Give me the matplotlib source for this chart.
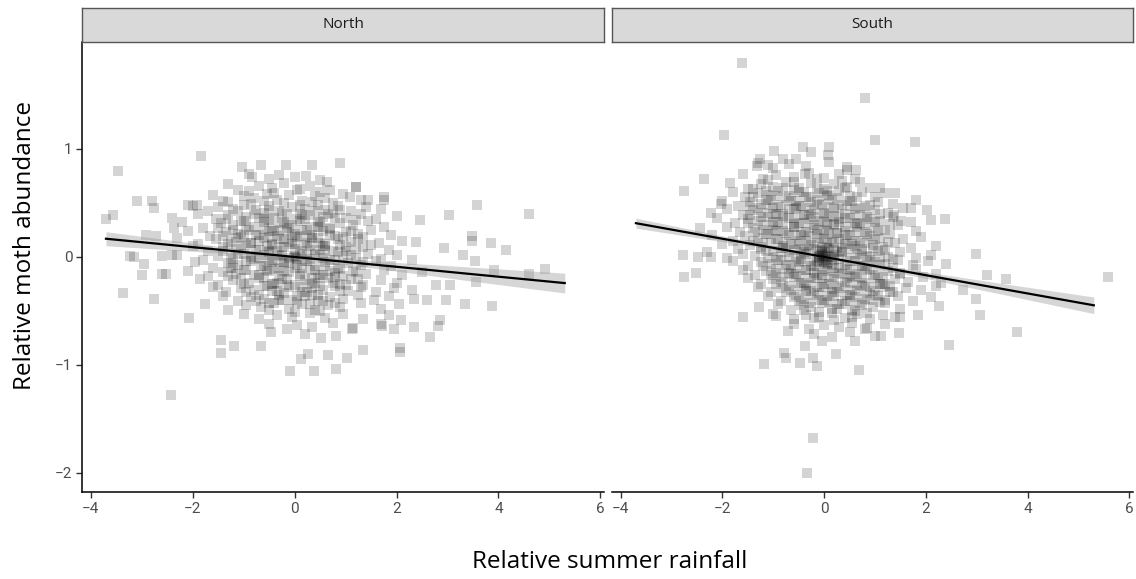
import numpy as np
import matplotlib.pyplot as plt

# relative rainfall / relative moth abundance
north_points = [
    # outer points
    (-1.83, 0.93), (-3.47, 0.79), (-3.70, 0.35), (-3.57, 0.39), (-3.10, 0.52), (-2.79, 0.52),
    (-2.75, 0.45), (-3.22, 0.01), (-3.15, 0.0), (-2.95, -0.07), (-2.99, -0.17), (-2.60, -0.16),
    (-2.52, -0.16), (-3.36, -0.34), (-2.75, -0.39), (-2.42, -1.28), (-2.07, -0.57), (-2.92, 0.20),
    (-2.71, 0.19), (-2.60, 0.01), (-2.40, 0.02), (-2.40, 0.36), (-2.36, 0.27), (-2.10, 0.48),
    (-1.92, 0.48), (-1.04, 0.83), (-0.83, 0.74), (-0.65, 0.85), (-0.16, 0.85), (0.35, 0.85),
    (0.89, 0.87), (0.22, 0.75), (0.64, 0.69), (1.20, 0.65), (1.44, 0.53), (1.75, 0.53),
    (1.08, 0.55), (2.47, 0.34), (3.03, 0.39), (3.58, 0.48), (4.60, 0.40), (3.48, 0.19),
    (3.48, 0.15), (3.85, 0.13), (4.14, 0.06), (3.31, 0.02), (3.54, -0.04), (2.94, 0.08),
    (2.39, 0.14), (3.91, -0.12), (4.60, -0.16), (4.91, -0.11), (3.56, -0.23), (3.34, -0.44),
    (3.87, -0.46), (2.97, -0.40), (3.05, -0.26), (2.78, -0.26), (2.59, -0.40), (2.35, -0.39),
    (2.86, -0.59), (2.82, -0.64), (2.65, -0.74), (2.34, -0.65), (2.08, -0.59), (1.95, -0.67),
    (1.71, -0.64), (2.07, -0.85), (2.07, -0.88), (1.34, -0.86), (1.03, -0.94), (0.82, -1.04),
    (0.66, -0.91), (0.38, -1.06), (-0.08, -1.06), (0.13, -0.95), (0.27, -0.90), (-0.65, -0.83),
    (-1.19, -0.83), (-1.44, -0.77), (-1.44, -0.89), (-0.47, -0.70), (0.21, -0.72), (0.82, -0.73),
    (0.52, -0.75), (1.13, -0.67),
    # core
    (-0.9, 0.77), (-0.5, 0.72), (-0.3, 0.76), (0.0, 0.74), (0.5, 0.71),
    (-1.3, 0.67), (-1.1, 0.62), (-0.7, 0.66), (-0.45, 0.64), (-0.2, 0.68), (0.1, 0.63), (0.3, 0.66),
    (0.7, 0.62), (1.2, 0.65),
    (-1.6, 0.57), (-1.4, 0.52), (-1.0, 0.56), (-0.8, 0.54), (-0.55, 0.58), (-0.35, 0.53), (-0.1, 0.57),
    (0.15, 0.52), (0.4, 0.56), (0.6, 0.54), (0.95, 0.58), (1.3, 0.53), (1.75, 0.55),
    (-2.0, 0.47), (-1.7, 0.42), (-1.5, 0.46), (-1.2, 0.44), (-1.0, 0.48), (-0.75, 0.43), (-0.5, 0.47),
    (-0.3, 0.42), (-0.05, 0.46), (0.2, 0.44), (0.45, 0.48), (0.6, 0.43), (0.85, 0.47), (1.1, 0.42),
    (1.4, 0.46), (1.7, 0.44),
    (-1.9, 0.40), (-1.55, 0.35), (-1.3, 0.39), (-0.95, 0.37), (-0.6, 0.41), (-0.4, 0.36), (-0.15, 0.40),
    (0.05, 0.35), (0.3, 0.39), (0.55, 0.37), (0.75, 0.41), (1.0, 0.36), (1.3, 0.40), (1.6, 0.35),
    (2.0, 0.38),
    (-2.2, 0.32), (-1.8, 0.27), (-1.45, 0.31), (-1.2, 0.29), (-1.0, 0.33), (-0.8, 0.28), (-0.6, 0.32),
    (-0.45, 0.27), (-0.25, 0.31), (-0.05, 0.29), (0.1, 0.33), (0.3, 0.28), (0.5, 0.32), (0.7, 0.27),
    (0.9, 0.31), (1.15, 0.29), (1.45, 0.33), (1.75, 0.28),
    (-2.1, 0.24), (-1.65, 0.19), (-1.35, 0.23), (-1.1, 0.21), (-0.9, 0.25), (-0.7, 0.20), (-0.5, 0.24),
    (-0.35, 0.19), (-0.15, 0.23), (0.0, 0.21), (0.15, 0.25), (0.35, 0.20), (0.55, 0.24), (0.8, 0.19),
    (1.0, 0.23), (1.25, 0.21), (1.5, 0.25), (1.9, 0.20),
    (-2.3, 0.17), (-1.9, 0.12), (-1.55, 0.16), (-1.25, 0.14), (-1.05, 0.18), (-0.85, 0.13), (-0.6, 0.17),
    (-0.45, 0.12), (-0.3, 0.16), (-0.1, 0.14), (0.05, 0.18), (0.25, 0.13), (0.45, 0.17), (0.6, 0.12),
    (0.85, 0.16), (1.1, 0.14), (1.35, 0.18), (1.65, 0.13), (2.1, 0.15),
    (-2.0, 0.10), (-1.7, 0.05), (-1.4, 0.09), (-1.15, 0.07), (-0.95, 0.11), (-0.75, 0.06), (-0.55, 0.10),
    (-0.35, 0.05), (-0.2, 0.09), (0.0, 0.07), (0.2, 0.11), (0.4, 0.06), (0.55, 0.10), (0.75, 0.05),
    (1.0, 0.09), (1.2, 0.07), (1.5, 0.11), (1.85, 0.06),
    (-2.3, 0.02), (-1.8, -0.03), (-1.5, 0.01), (-1.25, -0.01), (-1.0, 0.03), (-0.8, -0.02), (-0.6, 0.02),
    (-0.4, -0.03), (-0.25, 0.01), (-0.1, -0.01), (0.0, 0.0), (0.1, 0.03), (0.3, -0.02), (0.5, 0.02),
    (0.7, -0.03), (0.95, 0.01), (1.2, -0.01), (1.45, 0.03), (1.7, -0.02), (2.0, 0.02), (2.3, -0.03),
    (-1.95, -0.05), (-1.6, -0.10), (-1.3, -0.06), (-1.1, -0.08), (-0.85, -0.04), (-0.65, -0.09),
    (-0.45, -0.05), (-0.3, -0.10), (-0.1, -0.06), (0.05, -0.08), (0.2, -0.04), (0.4, -0.09),
    (0.6, -0.05), (0.85, -0.10), (1.05, -0.06), (1.3, -0.08), (1.6, -0.04), (1.9, -0.09),
    (-2.1, -0.13), (-1.7, -0.18), (-1.4, -0.14), (-1.15, -0.16), (-0.95, -0.12), (-0.7, -0.17),
    (-0.5, -0.13), (-0.3, -0.18), (-0.1, -0.14), (0.1, -0.16), (0.3, -0.12), (0.5, -0.17), (0.7, -0.13),
    (0.95, -0.18), (1.2, -0.14), (1.4, -0.16), (1.75, -0.12), (2.1, -0.17), (2.5, -0.14),
    (-1.85, -0.21), (-1.5, -0.26), (-1.2, -0.22), (-0.9, -0.24), (-0.7, -0.20), (-0.45, -0.25),
    (-0.25, -0.21), (0.0, -0.26), (0.2, -0.22), (0.4, -0.24), (0.65, -0.20), (0.9, -0.25), (1.1, -0.21),
    (1.35, -0.26), (1.7, -0.22), (2.0, -0.24),
    (-1.6, -0.28), (-1.35, -0.33), (-1.05, -0.29), (-0.8, -0.31), (-0.55, -0.27), (-0.35, -0.32),
    (-0.1, -0.28), (0.15, -0.33), (0.35, -0.29), (0.55, -0.31), (0.8, -0.27), (1.05, -0.32), (1.3, -0.28),
    (1.6, -0.33), (1.95, -0.29), (2.3, -0.31),
    (-1.4, -0.36), (-1.1, -0.41), (-0.85, -0.37), (-0.6, -0.39), (-0.3, -0.35), (-0.05, -0.40),
    (0.2, -0.36), (0.45, -0.41), (0.7, -0.37), (0.95, -0.39), (1.25, -0.35), (1.55, -0.40), (1.85, -0.36),
    (-1.75, -0.44), (-1.3, -0.49), (-0.95, -0.45), (-0.65, -0.47), (-0.4, -0.43), (-0.1, -0.48),
    (0.15, -0.44), (0.4, -0.49), (0.65, -0.45), (0.9, -0.47), (1.3, -0.43), (1.7, -0.48), (2.05, -0.44),
    (-1.0, -0.53), (-0.7, -0.58), (-0.35, -0.54), (-0.05, -0.56), (0.3, -0.52), (0.6, -0.57),
    (0.95, -0.53), (1.35, -0.58), (1.85, -0.54),
    (-0.5, -0.62), (-0.15, -0.67), (0.05, -0.63), (0.35, -0.65), (0.75, -0.61), (1.15, -0.66), (1.7, -0.62),
    # second layer in the dense middle
    (-0.9, 0.61), (-0.4, 0.59), (0.05, 0.62), (0.5, 0.60),
    (-1.3, 0.51), (-0.85, 0.49), (-0.6, 0.52), (-0.2, 0.50), (0.1, 0.48), (0.35, 0.51), (0.75, 0.50),
    (-1.1, 0.42), (-0.8, 0.40), (-0.5, 0.43), (-0.25, 0.41), (0.15, 0.39), (0.4, 0.42), (0.65, 0.40),
    (0.9, 0.43),
    (-1.35, 0.35), (-1.05, 0.33), (-0.7, 0.36), (-0.5, 0.34), (-0.2, 0.32), (0.2, 0.35), (0.45, 0.33),
    (0.8, 0.36), (1.2, 0.34),
    (-1.5, 0.27), (-1.2, 0.25), (-0.95, 0.28), (-0.6, 0.26), (-0.4, 0.24), (-0.1, 0.27), (0.25, 0.25),
    (0.45, 0.28), (0.7, 0.26), (1.1, 0.24),
    (-1.4, 0.19), (-1.15, 0.17), (-0.75, 0.20), (-0.5, 0.18), (-0.2, 0.16), (0.1, 0.19), (0.35, 0.17),
    (0.7, 0.20), (0.95, 0.18), (1.25, 0.16),
    (-1.3, 0.12), (-1.05, 0.10), (-0.85, 0.13), (-0.45, 0.11), (-0.25, 0.09), (-0.05, 0.12), (0.3, 0.10),
    (0.5, 0.13), (0.9, 0.11), (1.35, 0.09),
    (-1.4, 0.05), (-1.1, 0.03), (-0.7, 0.06), (-0.5, 0.04), (-0.3, 0.02), (0.15, 0.05), (0.4, 0.03),
    (0.6, 0.06), (0.85, 0.04), (1.1, 0.02),
    (-1.2, -0.02), (-0.95, -0.04), (-0.7, -0.01), (-0.5, -0.03), (-0.2, -0.05), (0.05, -0.02),
    (0.25, -0.04), (0.55, -0.01), (0.8, -0.03), (1.35, -0.05),
    (-1.25, -0.10), (-1.0, -0.12), (-0.6, -0.09), (-0.4, -0.11), (-0.2, -0.13), (0.0, -0.10),
    (0.4, -0.12), (0.6, -0.09), (0.9, -0.11), (1.15, -0.13),
    (-1.3, -0.18), (-1.05, -0.20), (-0.8, -0.17), (-0.6, -0.19), (-0.15, -0.21), (0.1, -0.18),
    (0.35, -0.20), (0.55, -0.17), (0.8, -0.19), (1.25, -0.21),
    (-1.0, -0.25), (-0.6, -0.27), (-0.35, -0.24), (-0.15, -0.26), (0.1, -0.28), (0.3, -0.25),
    (0.5, -0.27), (0.75, -0.24), (1.0, -0.26),
    (-0.95, -0.33), (-0.7, -0.35), (-0.45, -0.32), (-0.2, -0.34), (0.05, -0.36), (0.25, -0.33),
    (0.45, -0.35), (0.9, -0.32),
    (-0.75, -0.41), (-0.5, -0.43), (-0.25, -0.40), (0.05, -0.42), (0.3, -0.44), (0.55, -0.41),
    (0.8, -0.43),
    (-0.5, -0.49), (0.0, -0.51), (0.5, -0.50),
    (-0.7, 0.15), (-0.5, 0.05), (-0.3, 0.25), (-0.2, -0.05), (0.0, 0.12), (0.15, -0.1), (0.3, 0.18),
    (0.45, -0.2), (-0.4, -0.25), (-0.6, 0.35), (0.1, 0.4), (0.25, 0.02), (-0.15, 0.3), (-0.85, 0.0),
    (0.6, 0.1), (-1.0, 0.2), (0.8, -0.15), (-0.3, -0.4), (0.35, -0.35), (-0.05, 0.2), (-0.55, -0.12),
    (0.5, 0.28), (-1.2, -0.1), (1.0, 0.05), (-0.02, 0.01), (0.03, -0.01),
]

south_points = [
    # outer points
    (-1.62, 1.80), (0.80, 1.47), (-1.96, 1.13), (1.00, 1.08), (1.79, 1.06), (-0.21, -1.68),
    (-0.33, -2.00), (5.57, -0.19), (3.79, -0.70), (2.45, -0.82), (3.06, -0.54), (2.99, -0.39),
    (2.99, 0.03), (3.58, -0.21), (3.20, -0.17), (2.72, -0.31), (2.38, 0.35), (2.02, 0.43),
    (1.71, 0.45), (-2.76, 0.61), (-2.36, 0.72), (-2.78, 0.02), (-2.48, 0.0), (-2.75, -0.19),
    (-2.52, -0.15), (-2.22, 0.00), (-2.44, 0.27), (-2.22, 0.41), (-2.02, 0.49), (-1.60, -0.56),
    (-1.19, -0.99), (-0.79, -0.89), (-0.75, -0.94), (-0.48, -0.98), (-0.14, -1.01), (-0.21, -0.94),
    (0.24, -0.90), (0.69, -1.05), (-0.37, -0.83), (-0.05, -0.78), (-1.32, 0.84), (-1.27, 0.91),
    (-1.10, 0.85), (-0.98, 0.98), (-0.81, 0.91), (-0.55, 0.91), (-0.42, 1.02), (-0.26, 0.97),
    (0.09, 1.02), (0.07, 0.94), (0.44, 0.80), (0.63, 0.80), (-0.38, 0.77), (0.90, 0.64),
    (1.20, 0.59), (1.38, 0.39), (1.51, 0.33), (-0.71, -0.69), (-0.95, -0.55), (-1.29, -0.47),
    (1.47, -0.71), (1.12, -0.73), (0.61, -0.78), (0.80, -0.67), (1.84, -0.54), (2.25, -0.46),
    (1.49, -0.56),
    # core
    (-1.3, 0.87), (-1.0, 0.82), (-0.7, 0.86), (-0.35, 0.84), (0.1, 0.88), (0.45, 0.83),
    (-1.6, 0.77), (-1.2, 0.72), (-0.95, 0.76), (-0.6, 0.74), (-0.3, 0.78), (0.0, 0.73), (0.3, 0.77),
    (0.6, 0.72),
    (-1.85, 0.68), (-1.5, 0.63), (-1.25, 0.67), (-1.0, 0.65), (-0.75, 0.69), (-0.5, 0.64), (-0.25, 0.68),
    (0.0, 0.63), (0.2, 0.67), (0.45, 0.65), (0.7, 0.69), (1.1, 0.64),
    (-1.8, 0.60), (-1.55, 0.55), (-1.3, 0.59), (-1.1, 0.57), (-0.9, 0.61), (-0.7, 0.56), (-0.5, 0.60),
    (-0.3, 0.55), (-0.1, 0.59), (0.1, 0.57), (0.3, 0.61), (0.5, 0.56), (0.75, 0.60), (1.0, 0.55),
    (1.4, 0.59),
    (-2.0, 0.52), (-1.7, 0.47), (-1.45, 0.51), (-1.25, 0.49), (-1.05, 0.53), (-0.85, 0.48), (-0.65, 0.52),
    (-0.45, 0.47), (-0.25, 0.51), (-0.05, 0.49), (0.15, 0.53), (0.35, 0.48), (0.55, 0.52), (0.8, 0.47),
    (1.05, 0.51), (1.35, 0.49), (1.8, 0.53),
    (-1.9, 0.44), (-1.6, 0.39), (-1.4, 0.43), (-1.2, 0.41), (-1.0, 0.45), (-0.8, 0.40), (-0.6, 0.44),
    (-0.4, 0.39), (-0.2, 0.43), (0.0, 0.41), (0.2, 0.45), (0.4, 0.40), (0.6, 0.44), (0.8, 0.39),
    (1.0, 0.43), (1.25, 0.41), (1.55, 0.45),
    (-2.1, 0.36), (-1.75, 0.31), (-1.5, 0.35), (-1.3, 0.33), (-1.1, 0.37), (-0.9, 0.32), (-0.7, 0.36),
    (-0.5, 0.31), (-0.3, 0.35), (-0.1, 0.33), (0.1, 0.37), (0.3, 0.32), (0.5, 0.36), (0.7, 0.31),
    (0.9, 0.35), (1.1, 0.33), (1.35, 0.37), (1.7, 0.32), (2.1, 0.34),
    (-1.9, 0.28), (-1.65, 0.23), (-1.4, 0.27), (-1.2, 0.25), (-1.0, 0.29), (-0.8, 0.24), (-0.6, 0.28),
    (-0.4, 0.23), (-0.2, 0.27), (0.0, 0.25), (0.2, 0.29), (0.4, 0.24), (0.6, 0.28), (0.8, 0.23),
    (1.0, 0.27), (1.2, 0.25), (1.45, 0.29), (1.8, 0.24),
    (-2.2, 0.20), (-1.8, 0.15), (-1.55, 0.19), (-1.3, 0.17), (-1.1, 0.21), (-0.9, 0.16), (-0.7, 0.20),
    (-0.5, 0.15), (-0.3, 0.19), (-0.1, 0.17), (0.1, 0.21), (0.3, 0.16), (0.5, 0.20), (0.7, 0.15),
    (0.9, 0.19), (1.1, 0.17), (1.3, 0.21), (1.55, 0.16), (1.9, 0.18),
    (-2.0, 0.12), (-1.7, 0.07), (-1.45, 0.11), (-1.25, 0.09), (-1.05, 0.13), (-0.85, 0.08), (-0.65, 0.12),
    (-0.45, 0.07), (-0.25, 0.11), (-0.05, 0.09), (0.15, 0.13), (0.35, 0.08), (0.55, 0.12), (0.75, 0.07),
    (0.95, 0.11), (1.15, 0.09), (1.4, 0.13), (1.7, 0.08), (2.2, 0.10),
    (-2.3, 0.04), (-1.9, -0.01), (-1.6, 0.03), (-1.35, 0.01), (-1.15, 0.05), (-0.95, 0.0), (-0.75, 0.04),
    (-0.55, -0.01), (-0.35, 0.03), (-0.15, 0.01), (0.0, 0.05), (0.1, 0.0), (0.25, 0.04), (0.45, -0.01),
    (0.65, 0.03), (0.85, 0.01), (1.05, 0.05), (1.25, 0.0), (1.5, 0.04), (1.8, -0.01), (2.1, 0.02),
    (-1.8, -0.04), (-1.5, -0.09), (-1.25, -0.05), (-1.05, -0.07), (-0.85, -0.03), (-0.65, -0.08),
    (-0.45, -0.04), (-0.25, -0.09), (-0.1, -0.05), (0.05, -0.07), (0.2, -0.03), (0.4, -0.08), (0.6, -0.04),
    (0.8, -0.09), (1.0, -0.05), (1.2, -0.07), (1.45, -0.03), (1.75, -0.08), (2.05, -0.04), (2.4, -0.07),
    (-1.6, -0.12), (-1.35, -0.17), (-1.15, -0.13), (-0.95, -0.15), (-0.75, -0.11), (-0.55, -0.16),
    (-0.35, -0.12), (-0.15, -0.17), (0.05, -0.13), (0.25, -0.15), (0.45, -0.11), (0.65, -0.16),
    (0.85, -0.12), (1.05, -0.17), (1.25, -0.13), (1.5, -0.15), (1.8, -0.11), (2.2, -0.16),
    (-1.5, -0.20), (-1.25, -0.25), (-1.0, -0.21), (-0.8, -0.23), (-0.6, -0.19), (-0.4, -0.24),
    (-0.2, -0.20), (0.0, -0.25), (0.2, -0.21), (0.4, -0.23), (0.6, -0.19), (0.8, -0.24), (1.0, -0.20),
    (1.2, -0.25), (1.4, -0.21), (1.65, -0.23), (1.95, -0.19), (2.3, -0.24),
    (-1.3, -0.28), (-1.05, -0.33), (-0.85, -0.29), (-0.65, -0.31), (-0.45, -0.27), (-0.25, -0.32),
    (-0.05, -0.28), (0.15, -0.33), (0.35, -0.29), (0.55, -0.31), (0.75, -0.27), (0.95, -0.32),
    (1.15, -0.28), (1.35, -0.33), (1.6, -0.29), (1.9, -0.31), (2.2, -0.27),
    (-1.1, -0.36), (-0.85, -0.41), (-0.6, -0.37), (-0.4, -0.39), (-0.2, -0.35), (0.0, -0.40),
    (0.2, -0.36), (0.4, -0.41), (0.6, -0.37), (0.8, -0.39), (1.0, -0.35), (1.2, -0.40), (1.45, -0.36),
    (1.75, -0.41), (2.1, -0.37),
    (-0.9, -0.44), (-0.65, -0.49), (-0.45, -0.45), (-0.25, -0.47), (-0.05, -0.43), (0.15, -0.48),
    (0.35, -0.44), (0.55, -0.49), (0.75, -0.45), (0.95, -0.47), (1.2, -0.43), (1.5, -0.48),
    (-1.0, -0.53), (-0.6, -0.58), (-0.35, -0.54), (-0.1, -0.56), (0.15, -0.52), (0.4, -0.57),
    (0.65, -0.53), (0.9, -0.58), (1.15, -0.54), (1.4, -0.56),
    (-0.6, -0.62), (-0.3, -0.67), (0.0, -0.63), (0.3, -0.65), (0.55, -0.61), (0.85, -0.66), (1.2, -0.62),
    (-0.2, -0.72), (0.15, -0.74), (0.5, -0.70), (1.0, -0.73),
    # second layer in the dense middle
    (-1.1, 0.71), (-0.6, 0.69), (-0.15, 0.72), (0.35, 0.70),
    (-1.4, 0.63), (-1.15, 0.61), (-0.8, 0.64), (-0.6, 0.62), (-0.4, 0.60), (-0.15, 0.63), (0.05, 0.61),
    (0.4, 0.64),
    (-1.4, 0.55), (-1.15, 0.53), (-0.95, 0.56), (-0.75, 0.54), (-0.55, 0.52), (-0.35, 0.55),
    (-0.15, 0.53), (0.05, 0.56), (0.25, 0.54), (0.45, 0.52), (0.65, 0.55),
    (-1.5, 0.47), (-1.3, 0.45), (-1.1, 0.48), (-0.9, 0.46), (-0.7, 0.44), (-0.5, 0.47), (-0.3, 0.45),
    (-0.1, 0.48), (0.1, 0.46), (0.3, 0.44), (0.5, 0.47), (0.7, 0.45), (0.9, 0.48),
    (-1.45, 0.39), (-1.25, 0.37), (-1.0, 0.40), (-0.8, 0.38), (-0.6, 0.36), (-0.4, 0.39), (-0.2, 0.37),
    (0.0, 0.40), (0.2, 0.38), (0.4, 0.36), (0.6, 0.39), (0.85, 0.37), (1.1, 0.40),
    (-1.5, 0.31), (-1.2, 0.29), (-1.0, 0.32), (-0.8, 0.30), (-0.6, 0.28), (-0.4, 0.31), (-0.2, 0.29),
    (0.0, 0.32), (0.2, 0.30), (0.4, 0.28), (0.6, 0.31), (0.8, 0.29), (1.0, 0.32), (1.3, 0.30),
    (-1.35, 0.23), (-1.15, 0.21), (-0.95, 0.24), (-0.75, 0.22), (-0.55, 0.20), (-0.35, 0.23),
    (-0.15, 0.21), (0.05, 0.24), (0.25, 0.22), (0.45, 0.20), (0.65, 0.23), (0.85, 0.21), (1.05, 0.24),
    (-1.4, 0.15), (-1.2, 0.13), (-0.95, 0.16), (-0.75, 0.14), (-0.55, 0.12), (-0.35, 0.15), (-0.15, 0.13),
    (0.0, 0.16), (0.2, 0.14), (0.4, 0.12), (0.6, 0.15), (0.8, 0.13), (1.0, 0.16), (1.25, 0.14),
    (-1.25, 0.07), (-1.0, 0.05), (-0.8, 0.08), (-0.6, 0.06), (-0.4, 0.04), (-0.2, 0.07), (-0.05, 0.05),
    (0.05, 0.08), (0.2, 0.06), (0.35, 0.04), (0.55, 0.07), (0.75, 0.05), (0.95, 0.08), (1.2, 0.06),
    (-1.1, -0.01), (-0.9, -0.03), (-0.7, 0.0), (-0.45, -0.02), (-0.25, -0.04), (-0.1, -0.01),
    (0.0, -0.03), (0.15, 0.0), (0.3, -0.02), (0.5, -0.04), (0.7, -0.01), (0.9, -0.03), (1.1, 0.0),
    (1.35, -0.02),
    (-1.2, -0.09), (-0.95, -0.11), (-0.75, -0.08), (-0.55, -0.10), (-0.35, -0.12), (-0.2, -0.09),
    (0.0, -0.11), (0.15, -0.08), (0.3, -0.10), (0.5, -0.12), (0.7, -0.09), (0.9, -0.11), (1.1, -0.08),
    (1.35, -0.10),
    (-1.05, -0.17), (-0.85, -0.19), (-0.65, -0.16), (-0.45, -0.18), (-0.25, -0.20), (-0.05, -0.17),
    (0.15, -0.19), (0.35, -0.16), (0.55, -0.18), (0.75, -0.20), (0.95, -0.17), (1.15, -0.19),
    (1.5, -0.16),
    (-0.95, -0.25), (-0.7, -0.27), (-0.5, -0.24), (-0.3, -0.26), (-0.1, -0.28), (0.1, -0.25),
    (0.3, -0.27), (0.5, -0.24), (0.7, -0.26), (0.9, -0.28), (1.1, -0.25), (1.3, -0.27),
    (-0.75, -0.33), (-0.55, -0.35), (-0.35, -0.32), (-0.15, -0.34), (0.05, -0.36), (0.25, -0.33),
    (0.45, -0.35), (0.65, -0.32), (0.85, -0.34), (1.05, -0.36), (1.3, -0.33),
    (-0.5, -0.41), (-0.3, -0.43), (-0.1, -0.40), (0.1, -0.42), (0.3, -0.44), (0.5, -0.41),
    (0.7, -0.43), (0.9, -0.40), (1.1, -0.42),
    (-0.4, -0.49), (-0.1, -0.51), (0.25, -0.48), (0.6, -0.50), (0.85, -0.52),
    (-0.2, -0.57), (0.2, -0.59), (0.55, -0.56),
    (-0.3, 0.1), (-0.1, 0.0), (0.05, 0.15), (0.2, -0.1), (-0.2, -0.15), (0.35, 0.05), (-0.45, 0.2),
    (0.0, -0.05), (-0.05, 0.03), (0.1, 0.08), (-0.15, 0.25), (0.25, 0.22), (0.45, -0.2), (-0.5, -0.05),
    (-0.6, 0.3), (0.6, 0.1), (-0.35, -0.3), (0.15, -0.3), (-0.8, 0.1), (0.75, -0.1), (-0.25, 0.4),
    (0.3, 0.35), (-0.7, -0.15), (0.5, -0.35), (-1.0, 0.25), (0.9, 0.0), (-0.05, -0.2), (0.05, 0.3),
    (-0.4, 0.05), (0.2, 0.02), (-0.15, -0.08), (0.4, 0.15), (-0.95, 0.4), (1.1, -0.25), (-0.55, 0.45),
    (0.65, 0.3), (-0.02, 0.01), (0.03, -0.02), (-0.08, 0.06), (0.08, -0.06), (-0.05, -0.04),
    (0.02, 0.04), (-0.1, 0.02), (0.06, 0.01),
]

# fitted line and confidence band
north_fit_x = [-3.7, -2.0, 0.0, 2.0, 3.5, 5.3]
north_fit_y = [0.167, 0.089, -0.002, -0.093, -0.162, -0.244]
north_fit_half = [0.065, 0.038, 0.012, 0.040, 0.065, 0.092]

south_fit_x = [-3.7, -2.0, 0.0, 2.0, 3.5, 5.3]
south_fit_y = [0.311, 0.167, -0.002, -0.171, -0.298, -0.450]
south_fit_half = [0.046, 0.027, 0.008, 0.030, 0.050, 0.077]

panels = ["North", "South"]
x_ticks = [-4, -2, 0, 2, 4, 6]
y_ticks = [-2, -1, 0, 1]

W, H = 1136, 579
fig = plt.figure(figsize=(W / 100, H / 100), dpi=100)
tick_font = ['Liberation Sans Narrow', 'Roboto', 'DejaVu Sans']
title_font = ['Open Sans', 'DejaVu Sans']

panel_px = [(82, 604), (612, 1133)]
data = [north_points, south_points]
fits = [(north_fit_x, north_fit_y, north_fit_half), (south_fit_x, south_fit_y, south_fit_half)]

for i, name in enumerate(panels):
    x0, x1 = panel_px[i]
    ax = fig.add_axes([x0 / W, 1 - 492 / H, (x1 - x0) / W, (492 - 42) / H])
    pts = np.array(data[i])
    ax.scatter(pts[:, 0], pts[:, 1], marker='s', s=42, color='black', alpha=0.17, linewidths=0)
    fx, fy, fh = (np.array(a) for a in fits[i])
    ax.fill_between(fx, fy - fh, fy + fh, color='#999999', alpha=0.4, linewidth=0)
    ax.plot(fx, fy, color='black', lw=1.6)

    ax.set_xlim(-4.17, 6.07)
    ax.set_ylim(-2.18, 1.99)
    ax.set_xticks(x_ticks)
    ax.set_xticklabels([str(t).replace('-', '\u2212') for t in x_ticks], family=tick_font,
                       fontsize=11, color='#4D4D4D')
    for s in ['top', 'right']:
        ax.spines[s].set_visible(False)
    ax.spines['bottom'].set_linewidth(1.1)
    ax.tick_params(axis='x', length=4, width=1.0, color='#333333', pad=3)
    if i == 0:
        ax.set_yticks(y_ticks)
        ax.set_yticklabels([str(t).replace('-', '\u2212') for t in y_ticks], family=tick_font,
                           fontsize=11, color='#4D4D4D')
        ax.tick_params(axis='y', length=4, width=1.0, color='#333333', pad=3)
        ax.spines['left'].set_linewidth(1.1)
    else:
        ax.spines['left'].set_visible(False)
        ax.set_yticks([])

    # facet strip
    sx = fig.add_axes([x0 / W, 1 - 42 / H, (x1 - x0) / W, 34 / H])
    sx.set_facecolor('#D9D9D9')
    sx.set_xticks([])
    sx.set_yticks([])
    for s in sx.spines.values():
        s.set_color('#555555')
        s.set_linewidth(1.0)
    sx.text(0.5, 0.5, name, ha='center', va='center', fontsize=11, color='#1A1A1A',
            family=title_font, transform=sx.transAxes)

fig.text(25 / W, 1 - 245 / H, "Relative moth abundance", rotation=90, ha='center', va='center',
         fontsize=17.5, family=title_font)
fig.text(610 / W, 1 - 562 / H, "Relative summer rainfall", ha='center', va='center',
         fontsize=17.5, family=title_font)

plt.savefig("out.png", dpi=100)
